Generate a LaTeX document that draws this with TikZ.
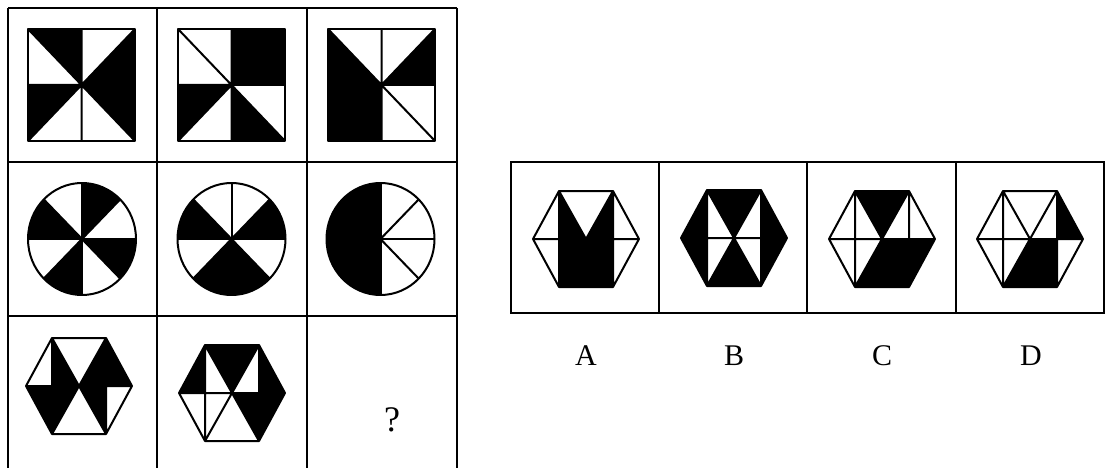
\documentclass[tikz,border=0pt]{standalone}
\usepackage{fontspec}
\setmainfont{Liberation Serif}
\newcommand\sqfig[3]{%
  \def\cx{#1}\def\cy{#2}%
  \foreach \k in {#3}{%
    \fill ({\cx+53.5*round(1.2*cos(180+45*\k))},{\cy+56*round(1.2*sin(180+45*\k))}) -- (\cx,\cy)
      -- ({\cx+53.5*round(1.2*cos(225+45*\k))},{\cy+56*round(1.2*sin(225+45*\k))}) -- cycle;}
  \draw[fig] (\cx-53.5,\cy-56) rectangle (\cx+53.5,\cy+56);
  \draw[fig] (\cx,\cy-56) -- (\cx,\cy+56) (\cx-53.5,\cy) -- (\cx+53.5,\cy)
    (\cx-53.5,\cy-56) -- (\cx+53.5,\cy+56) (\cx+53.5,\cy-56) -- (\cx-53.5,\cy+56);
}
\newcommand\circfig[3]{%
  \def\cx{#1}\def\cy{#2}%
  \foreach \k in {#3}{%
    \fill (\cx,\cy) -- ++({180+45*\k}:54 and 56)
      arc[start angle={180+45*\k}, end angle={225+45*\k}, x radius=54, y radius=56] -- cycle;}
  \draw[fig] (\cx,\cy) ellipse[x radius=54, y radius=56];
  \draw[fig] (\cx,\cy-56) -- (\cx,\cy+56) (\cx-54,\cy) -- (\cx+54,\cy);
  \draw[fig] (\cx,\cy) ++(45:54 and 56) -- ++({-108*cos(45)},{-112*sin(45)});
  \draw[fig] (\cx,\cy) ++(135:54 and 56) -- ++({108*cos(45)},{-112*sin(45)});
}
\newcommand\hexpts[2]{%
  \coordinate (C) at (#1,#2);
  \coordinate (A) at (#1-27,#2-48);
  \coordinate (B) at (#1+27,#2-48);
  \coordinate (R) at (#1+53,#2);
  \coordinate (D) at (#1+27,#2+48);
  \coordinate (E) at (#1-27,#2+48);
  \coordinate (L) at (#1-53,#2);
  \coordinate (P) at (#1-27,#2);
  \coordinate (Q) at (#1+27,#2);
}
\def\rTop{(C)--(A)--(B)--cycle}
\def\rURi{(C)--(B)--(Q)--cycle}
\def\rURo{(B)--(R)--(Q)--cycle}
\def\rLRi{(C)--(Q)--(D)--cycle}
\def\rLRo{(Q)--(R)--(D)--cycle}
\def\rBot{(C)--(D)--(E)--cycle}
\def\rLLi{(C)--(E)--(P)--cycle}
\def\rLLo{(P)--(E)--(L)--cycle}
\def\rULi{(C)--(P)--(A)--cycle}
\def\rULo{(A)--(P)--(L)--cycle}
\newcommand\hexlines{%
  \draw[fig] (A)--(B)--(R)--(D)--(E)--(L)--cycle (A)--(D) (B)--(E) (L)--(R) (A)--(E) (B)--(D);}
\begin{document}
\begin{tikzpicture}[x=1pt,y=-1pt,
  fig/.style={line width=2pt, line join=round},
  grid/.style={line width=2pt},
  lbl/.style={font=\fontsize{30}{30}\selectfont, inner sep=0pt}]
\useasboundingbox (0,0) rectangle (1106,468);
\fill[white] (0,0) rectangle (1106,468);
% left table
\draw[grid] (8,8) -- (457,8) (8,162) -- (457,162) (8,316) -- (457,316);
\draw[grid] (8,8) -- (8,468) (157,8) -- (157,468) (307,8) -- (307,468) (457,8) -- (457,468);
% row 1: squares
\sqfig{81.5}{85}{1,3,4,7}
\sqfig{231.5}{85}{2,3,5,7}
\sqfig{381.5}{85}{3,6,7,8}
% row 2: circles
\circfig{82}{239}{2,4,6,8}
\circfig{231.5}{239}{3,5,6,8}
\circfig{380.5}{239}{1,6,7,8}
% row 3: hexagons
\hexpts{79}{386}
\fill \rURi \rURo \rLRi \rLLi \rLLo \rULi;
\hexlines
\hexpts{232}{393}
\fill \rTop \rURo \rLRi \rLRo \rULo;
\hexlines
\node[lbl, font=\fontsize{36}{36}\selectfont] (qm) at (392,420) {?};
% options table
\draw[grid] (511,162) rectangle (1104,313);
\draw[grid] (659,162) -- (659,313) (807,162) -- (807,313) (956,162) -- (956,313);
\hexpts{586}{239}
\fill \rURi \rLRi \rBot \rLLi \rULi;
\hexlines
\hexpts{734}{238}
\fill \rTop \rULo \rURo \rLRo \rLLo \rBot;
\hexlines
\hexpts{882}{239}
\fill \rTop \rLRi \rLRo \rBot;
\hexlines
\hexpts{1030}{239}
\fill \rURo \rLRi \rBot;
\hexlines
\node[lbl] (la) at (586,356) {A};
\node[lbl] (lb) at (734,356) {B};
\node[lbl] (lc) at (882,356) {C};
\node[lbl] (ld) at (1031,356) {D};
\end{tikzpicture}
\end{document}
